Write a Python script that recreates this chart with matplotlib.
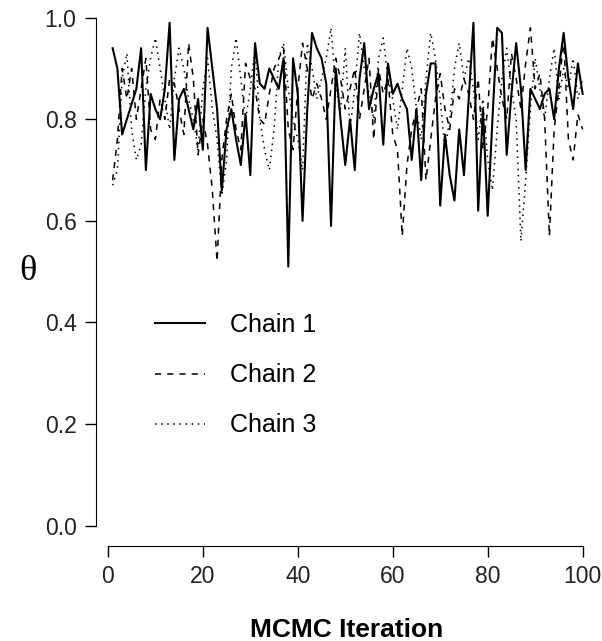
import matplotlib
matplotlib.use("Agg")
import matplotlib.pyplot as plt
import numpy as np

# Trace des trois chaines
iterations = np.arange(1, 101)

chain1 = [0.94, 0.90, 0.77, 0.80, 0.83, 0.86, 0.94, 0.70, 0.85, 0.82,
          0.80, 0.86, 0.99, 0.72, 0.84, 0.86, 0.82, 0.78, 0.84, 0.74,
          0.98, 0.90, 0.82, 0.66, 0.78, 0.82, 0.76, 0.71, 0.81, 0.69,
          0.95, 0.87, 0.86, 0.90, 0.88, 0.86, 0.92, 0.51, 0.92, 0.85,
          0.60, 0.82, 0.97, 0.94, 0.92, 0.87, 0.59, 0.90, 0.80, 0.71,
          0.80, 0.70, 0.88, 0.95, 0.82, 0.86, 0.89, 0.75, 0.91, 0.85,
          0.87, 0.84, 0.82, 0.72, 0.82, 0.68, 0.85, 0.91, 0.91, 0.63,
          0.77, 0.69, 0.64, 0.78, 0.69, 0.84, 0.99, 0.62, 0.82, 0.61,
          0.80, 0.98, 0.97, 0.73, 0.85, 0.95, 0.86, 0.70, 0.86, 0.84,
          0.82, 0.85, 0.86, 0.80, 0.90, 0.97, 0.88, 0.82, 0.91, 0.85]

chain2 = [0.68, 0.76, 0.90, 0.84, 0.90, 0.80, 0.86, 0.92, 0.78, 0.76,
          0.84, 0.80, 0.88, 0.87, 0.82, 0.77, 0.95, 0.88, 0.73, 0.80,
          0.75, 0.66, 0.52, 0.72, 0.80, 0.85, 0.78, 0.74, 0.91, 0.88,
          0.86, 0.80, 0.79, 0.85, 0.90, 0.92, 0.94, 0.78, 0.74, 0.86,
          0.95, 0.90, 0.84, 0.87, 0.84, 0.80, 0.86, 0.92, 0.88, 0.82,
          0.86, 0.90, 0.80, 0.86, 0.92, 0.76, 0.90, 0.85, 0.88, 0.77,
          0.74, 0.57, 0.71, 0.78, 0.82, 0.86, 0.68, 0.76, 0.84, 0.89,
          0.82, 0.78, 0.86, 0.84, 0.88, 0.85, 0.80, 0.88, 0.74, 0.82,
          0.96, 0.90, 0.84, 0.80, 0.93, 0.88, 0.82, 0.91, 0.98, 0.86,
          0.89, 0.80, 0.57, 0.78, 0.86, 0.96, 0.76, 0.72, 0.81, 0.78]

chain3 = [0.67, 0.70, 0.88, 0.93, 0.78, 0.72, 0.75, 0.86, 0.92, 0.96,
          0.90, 0.84, 0.78, 0.88, 0.94, 0.90, 0.84, 0.80, 0.74, 0.86,
          0.92, 0.82, 0.76, 0.65, 0.72, 0.90, 0.96, 0.88, 0.80, 0.86,
          0.94, 0.80, 0.74, 0.70, 0.78, 0.92, 0.95, 0.86, 0.80, 0.76,
          0.70, 0.95, 0.90, 0.84, 0.88, 0.92, 0.98, 0.86, 0.82, 0.94,
          0.78, 0.86, 0.97, 0.90, 0.85, 0.80, 0.92, 0.96, 0.88, 0.84,
          0.78, 0.86, 0.94, 0.90, 0.82, 0.76, 0.88, 0.97, 0.92, 0.84,
          0.74, 0.80, 0.90, 0.95, 0.88, 0.92, 0.86, 0.76, 0.84, 0.72,
          0.66, 0.78, 0.88, 0.94, 0.86, 0.80, 0.56, 0.68, 0.82, 0.92,
          0.86, 0.80, 0.88, 0.94, 0.84, 0.90, 0.86, 0.92, 0.84, 0.88]

labels = ["Chain 1", "Chain 2", "Chain 3"]
xticks = [0, 20, 40, 60, 80, 100]
yticks = [0.0, 0.2, 0.4, 0.6, 0.8, 1.0]

plt.rcParams['font.family'] = ['Liberation Sans', 'DejaVu Sans']

fig = plt.figure(figsize=(6.02, 6.41), dpi=100)
ax = fig.add_axes([0.1595, 0.1482, 0.832, 0.848])

ax.plot(iterations, chain1, color='black', linewidth=1.5, linestyle='-', label=labels[0])
ax.plot(iterations, chain2, color='black', linewidth=1.1, linestyle=(0, (4, 4)), label=labels[1])
ax.plot(iterations, chain3, color='black', linewidth=1.1, linestyle=(0, (1, 3)), label=labels[2])

ax.set_xlim(-2.5, 103)
ax.set_ylim(-0.04, 1.03)
ax.set_xticks(xticks)
ax.set_yticks(yticks)
ax.set_xticklabels([str(t) for t in xticks])
ax.set_yticklabels([f"{t:.1f}" for t in yticks])

for s in ['top', 'right']:
    ax.spines[s].set_visible(False)
ax.spines['left'].set_bounds(0, 1)
ax.spines['bottom'].set_bounds(0, 100)
ax.tick_params(direction='out', length=8, width=1, labelsize=16.5, pad=6,
               labelcolor='#222222')

ax.set_xlabel("MCMC Iteration", fontsize=19, fontweight='bold', labelpad=21)
fig.text(28 / 602, 1 - 272 / 641, "θ", fontsize=26, family='Liberation Serif',
         ha='center', va='center')

ax.legend(frameon=False, fontsize=18, loc='upper left',
          bbox_to_anchor=(155 / 602, 1 - 313 / 641), bbox_transform=fig.transFigure,
          borderpad=0, borderaxespad=0, handlelength=2.0, handletextpad=1.0,
          labelspacing=1.05)

plt.savefig("out.png", dpi=100)
